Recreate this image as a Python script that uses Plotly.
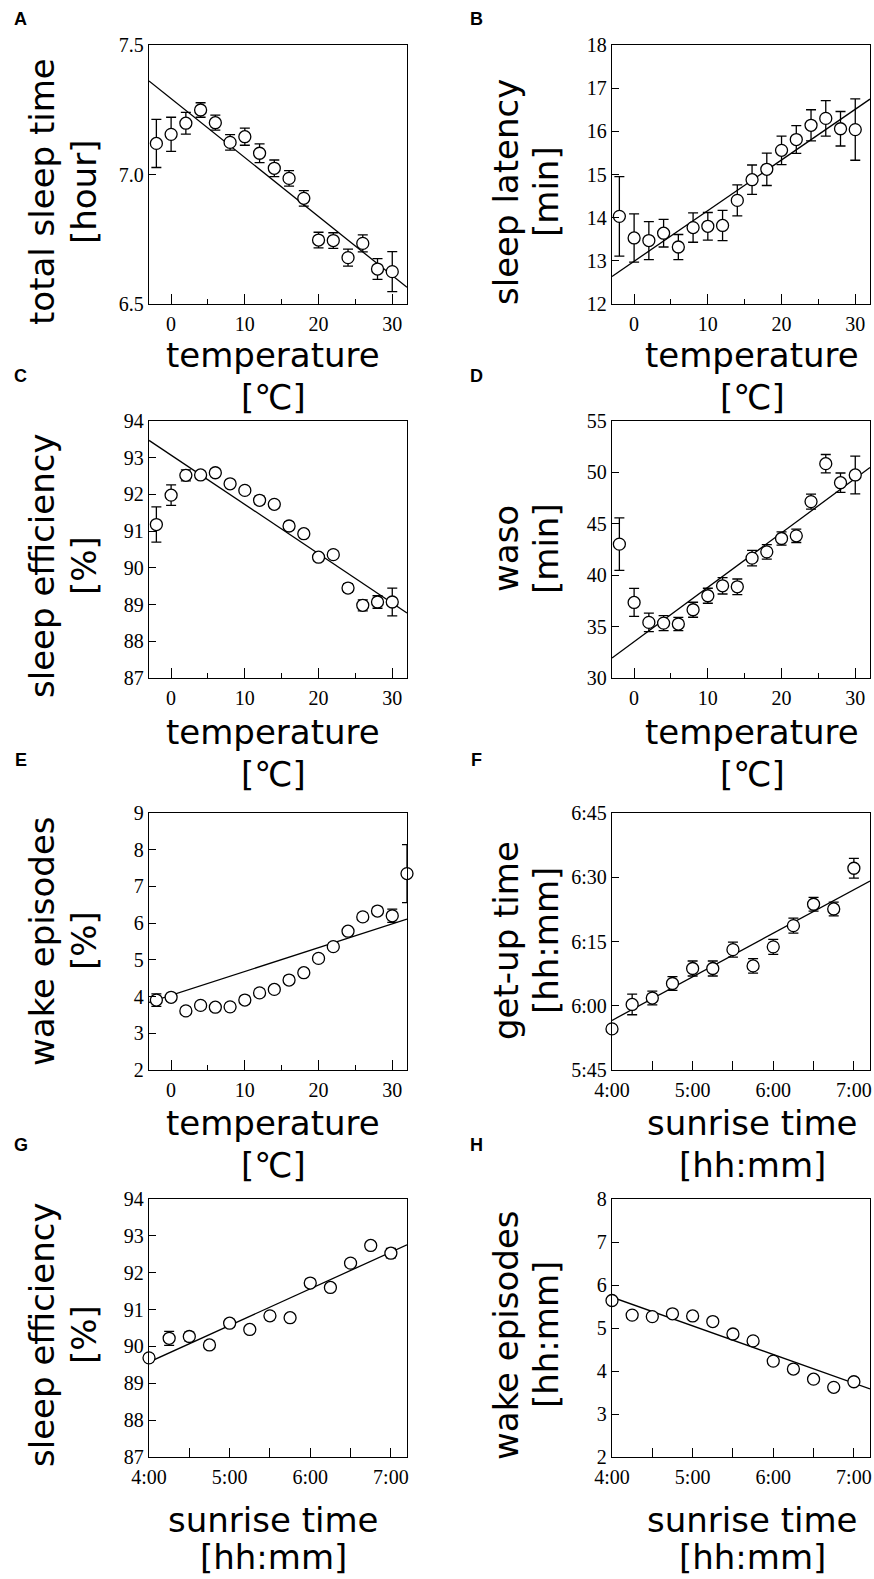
import plotly.graph_objects as go

W, H = 874, 1579

# ---------------- data ----------------
temp = [-2, 0, 2, 4, 6, 8, 10, 12, 14, 16, 18, 20, 22, 24, 26, 28, 30]
temp_e = [-2, 0, 2, 4, 6, 8, 10, 12, 14, 16, 18, 20, 22, 24, 26, 28, 30, 32]

tst_mean = [7.12, 7.155, 7.198, 7.249, 7.20, 7.124, 7.146, 7.082, 7.024, 6.985, 6.908,
            6.747, 6.745, 6.679, 6.734, 6.635, 6.625]
tst_err = [0.093, 0.066, 0.042, 0.028, 0.029, 0.030, 0.033, 0.036, 0.032, 0.030, 0.030,
           0.030, 0.030, 0.033, 0.033, 0.040, 0.077]

lat_mean = [14.03, 13.53, 13.47, 13.64, 13.32, 13.77, 13.80, 13.82, 14.40, 14.88, 15.12,
            15.56, 15.81, 16.14, 16.30, 16.06, 16.04]
lat_err = [0.92, 0.56, 0.44, 0.32, 0.29, 0.34, 0.32, 0.35, 0.36, 0.34, 0.375,
           0.33, 0.32, 0.36, 0.41, 0.40, 0.71]

eff_t_mean = [91.18, 91.98, 92.52, 92.53, 92.59, 92.29, 92.11, 91.84, 91.73, 91.14, 90.93,
              90.29, 90.36, 89.45, 88.98, 89.07, 89.07]
eff_t_err = [0.48, 0.28, 0.15, 0.10, 0.10, 0.10, 0.10, 0.11, 0.10, 0.11, 0.10,
             0.10, 0.10, 0.12, 0.15, 0.17, 0.38]

waso_mean = [43.02, 37.35, 35.41, 35.34, 35.25, 36.64, 38.00, 38.97, 38.87, 41.66, 42.27,
             43.57, 43.83, 47.16, 50.85, 49.00, 49.75]
waso_err = [2.56, 1.36, 0.90, 0.73, 0.65, 0.73, 0.73, 0.80, 0.76, 0.76, 0.70,
            0.65, 0.65, 0.73, 0.89, 0.94, 1.83]

wake_t_mean = [3.905, 3.98, 3.61, 3.76, 3.71, 3.72, 3.905, 4.10, 4.195, 4.45, 4.65,
               5.04, 5.36, 5.78, 6.17, 6.33, 6.20, 7.35]
wake_t_err = [0.17, 0.10, 0.10, 0.10, 0.10, 0.10, 0.10, 0.10, 0.10, 0.10, 0.10,
              0.10, 0.10, 0.10, 0.10, 0.10, 0.18, 0.79]

sunrise = ["4:00", "4:15", "4:30", "4:45", "5:00", "5:15", "5:30", "5:45",
           "6:00", "6:15", "6:30", "6:45", "7:00"]

getup_mean = ["5:54.6", "6:00.3", "6:01.8", "6:05.2", "6:08.7", "6:08.7", "6:13.1",
              "6:09.3", "6:13.75", "6:18.7", "6:23.7", "6:22.6", "6:32.1"]
getup_err_min = [0.5, 2.4, 1.6, 1.6, 1.75, 1.75, 1.75, 1.7, 1.75, 1.75, 1.6, 1.6, 2.3]

eff_s_mean = [89.69, 90.22, 90.27, 90.04, 90.63, 90.46, 90.83, 90.78, 91.72, 91.60,
              92.26, 92.74, 92.53]
eff_s_err = [0.10, 0.19, 0.12, 0.10, 0.10, 0.10, 0.10, 0.10, 0.10, 0.10, 0.10, 0.10, 0.13]

wake_s_mean = [5.64, 5.30, 5.265, 5.33, 5.28, 5.15, 4.86, 4.70, 4.23, 4.045, 3.81, 3.62, 3.75]
wake_s_err = [0.08] * 13

# regression lines (slope, intercept)
fit_slope = [-0.02277, 0.1174, -0.1343, 0.5294, 0.0649, 10.17, 0.994, -0.666]
fit_intercept = [7.293, 12.99, 93.07, 33.53, 4.035, 315.9, 85.60, 8.38]

temp_ticks = [0, 10, 20, 30]
temp_minor = [5, 15, 25]
time_ticks = ["4:00", "5:00", "6:00", "7:00"]
time_minor = ["4:30", "5:30", "6:30"]
getup_ticks = ["5:45", "6:00", "6:15", "6:30", "6:45"]

panel_labels = ["A", "B", "C", "D", "E", "F", "G", "H"]
y_titles = [("total sleep time", "[hour]"), ("sleep latency", "[min]"),
            ("sleep efficiency", "[%]"), ("waso", "[min]"),
            ("wake episodes", "[%]"), ("get-up time", "[hh:mm]"),
            ("sleep efficiency", "[%]"), ("wake episodes", "[hh:mm]")]
x_titles = [("temperature", "[℃]")] * 5 + [("sunrise time", "[hh:mm]")] * 3


def hours(s):
    h, m = s.split(":")
    return int(h) + float(m) / 60.0


def minutes(s):
    h, m = s.split(":")
    return int(h) * 60 + float(m)


sun_h = [hours(s) for s in sunrise]

panels = [
    dict(x=temp, y=tst_mean, e=tst_err, kind="temp", yr=[6.5, 7.5],
         yt=[6.5, 7.0, 7.5], ytt=["6.5", "7.0", "7.5"]),
    dict(x=temp, y=lat_mean, e=lat_err, kind="temp", yr=[12, 18],
         yt=list(range(12, 19)), ytt=[str(v) for v in range(12, 19)]),
    dict(x=temp, y=eff_t_mean, e=eff_t_err, kind="temp", yr=[87, 94],
         yt=list(range(87, 95)), ytt=[str(v) for v in range(87, 95)]),
    dict(x=temp, y=waso_mean, e=waso_err, kind="temp", yr=[30, 55],
         yt=list(range(30, 56, 5)), ytt=[str(v) for v in range(30, 56, 5)]),
    dict(x=temp_e, y=wake_t_mean, e=wake_t_err, kind="temp", yr=[2, 9],
         yt=list(range(2, 10)), ytt=[str(v) for v in range(2, 10)]),
    dict(x=sun_h, y=[minutes(s) for s in getup_mean], e=getup_err_min, kind="time",
         yr=[minutes("5:45"), minutes("6:45")],
         yt=[minutes(s) for s in getup_ticks], ytt=getup_ticks),
    dict(x=sun_h, y=eff_s_mean, e=eff_s_err, kind="time", yr=[87, 94],
         yt=list(range(87, 95)), ytt=[str(v) for v in range(87, 95)]),
    dict(x=sun_h, y=wake_s_mean, e=wake_s_err, kind="time", yr=[2, 8],
         yt=list(range(2, 9)), ytt=[str(v) for v in range(2, 9)]),
]

# ---------------- layout geometry (pixels) ----------------
col_x = [(149, 407), (612, 870)]
row_y = [(45, 304), (421, 678), (813, 1070), (1199, 1457)]
temp_range = [-3, 32]
time_range = [4, 7.2]

# title centres (pixels)
ytitle_x = [(42, 84), (506, 546)]
ytitle_y = [192, 192, 566, 549, 941, 941, 1335, 1335]
xtitle_x = [273, 752]
xtitle_y = [(355, 397), (732, 774), (1123, 1165), (1520, 1557)]
label_pos = [(20, 19), (476, 19), (20, 376), (476, 376), (21, 760), (476, 760),
             (21, 1145), (476, 1145)]


def px(x):
    return x / W


def py(y):
    return 1 - y / H


fig = go.Figure()
layout = dict(template="none", width=W, height=H, margin=dict(l=0, r=0, t=0, b=0, pad=0),
              paper_bgcolor="white", plot_bgcolor="white", showlegend=False)
annotations = []

tick_font = dict(family="Liberation Serif", size=20, color="black")
title_font = dict(family="DejaVu Sans", size=34, color="black")

for i, p in enumerate(panels):
    r, c = divmod(i, 2)
    sfx = "" if i == 0 else str(i + 1)
    xr = temp_range if p["kind"] == "temp" else time_range
    xs = [xr[0], xr[1]]
    ys = [fit_intercept[i] + fit_slope[i] * v for v in xs]
    fig.add_trace(go.Scatter(x=xs, y=ys, mode="lines", line=dict(color="black", width=1.3),
                             xaxis="x" + sfx, yaxis="y" + sfx, hoverinfo="skip"))
    fig.add_trace(go.Scatter(x=p["x"], y=p["y"], mode="markers", cliponaxis=False,
                             error_y=dict(type="data", array=p["e"], color="black",
                                          thickness=1.3, width=5),
                             marker=dict(symbol="circle", size=12, color="white",
                                         line=dict(color="black", width=1.3)),
                             xaxis="x" + sfx, yaxis="y" + sfx))
    base = dict(showline=True, linecolor="black", linewidth=1.3, mirror=True,
                ticks="inside", tickcolor="black", tickwidth=1.3, showgrid=False,
                zeroline=False, tickfont=tick_font, automargin=False)
    if p["kind"] == "temp":
        xa = dict(base, range=temp_range, tickmode="array", tickvals=temp_ticks,
                  ticktext=[str(v) for v in temp_ticks], ticklen=10,
                  minor=dict(tickmode="array", tickvals=temp_minor, ticks="inside",
                             ticklen=5, tickcolor="black", tickwidth=1.3, showgrid=False))
    else:
        xa = dict(base, range=time_range, tickmode="array",
                  tickvals=[hours(s) for s in time_ticks], ticktext=time_ticks, ticklen=9,
                  minor=dict(tickmode="array", tickvals=[hours(s) for s in time_minor],
                             ticks="inside", ticklen=9, tickcolor="black", tickwidth=1.3,
                             showgrid=False))
    x0, x1 = col_x[c]
    y0, y1 = row_y[r]
    xa.update(domain=[px(x0), px(x1)], anchor="y" + sfx, ticklabelstandoff=2)
    ya = dict(base, range=p["yr"], tickmode="array", tickvals=p["yt"], ticktext=p["ytt"],
              ticklen=7, domain=[py(y1), py(y0)], anchor="x" + sfx)
    layout["xaxis" + sfx] = xa
    layout["yaxis" + sfx] = ya

    # panel label
    lx, ly = label_pos[i]
    annotations.append(dict(text="<b>%s</b>" % panel_labels[i], x=px(lx), y=py(ly),
                            xref="paper", yref="paper", showarrow=False,
                            xanchor="center", yanchor="middle",
                            font=dict(family="Liberation Sans", size=18, color="black")))
    # y title (two lines)
    for k in range(2):
        annotations.append(dict(text=y_titles[i][k], x=px(ytitle_x[c][k]), y=py(ytitle_y[i]),
                                xref="paper", yref="paper", showarrow=False, textangle=-90,
                                xanchor="center", yanchor="middle", font=title_font))
    # x title (two lines)
    for k in range(2):
        annotations.append(dict(text=x_titles[i][k], x=px(xtitle_x[c]), y=py(xtitle_y[r][k]),
                                xref="paper", yref="paper", showarrow=False,
                                xanchor="center", yanchor="middle", font=title_font))

layout["annotations"] = annotations
fig.update_layout(**layout)
fig.write_html("out.html", config={"displayModeBar": False},
               post_script="document.body.style.margin='0';")
